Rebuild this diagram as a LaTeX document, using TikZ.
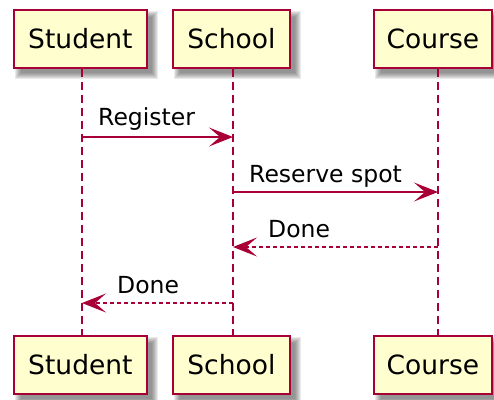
\documentclass[tikz,border=0pt]{standalone}
\usepackage{fontspec}
\setmainfont{DejaVu Sans}
\usetikzlibrary{arrows.meta,backgrounds}
\definecolor{seqred}{HTML}{A80036}
\definecolor{boxfill}{HTML}{FEFECE}
\tikzset{
  actorbox/.style={draw=seqred, fill=boxfill, line width=1.8pt, inner sep=0pt,
    minimum height=58pt, anchor=north west, font=\fontsize{26.5}{30}\selectfont, text=black},
  lifeline/.style={draw=seqred, line width=1.5pt, dash pattern=on 8pt off 5pt},
  call/.style={draw=seqred, line width=1.6pt,
    -{Stealth[length=24pt, width=19pt, inset=11pt, fill=seqred]}},
  reply/.style={call, dash pattern=on 4pt off 3pt},
  msglabel/.style={anchor=base west, inner sep=0pt, font=\fontsize{23.5}{27}\selectfont, text=black}
}
\begin{document}
\begin{tikzpicture}[x=1pt, y=-1pt]
  \useasboundingbox (0,0) rectangle (494,399);

  % participants, head and foot
  \node[actorbox, minimum width=133pt] (stuT) at (13,9) {Student};
  \node[actorbox, minimum width=117pt] (schT) at (172,9) {School};
  \node[actorbox, minimum width=118pt] (couT) at (373,9) {Course};
  \node[actorbox, minimum width=133pt] (stuB) at (13,335) {Student};
  \node[actorbox, minimum width=117pt] (schB) at (172,335) {School};
  \node[actorbox, minimum width=118pt] (couB) at (373,335) {Course};

  % soft drop shadows behind every box
  \begin{scope}[on background layer]
    \foreach \b in {stuT,schT,couT,stuB,schB,couB}{
      \foreach \e in {4,3,2,1,0,-1,-2}{
        \fill[black!75, opacity=0.11]
          ([shift={(6-\e pt,-6+\e pt)}]\b.north west) rectangle
          ([shift={(6+\e pt,-6-\e pt)}]\b.south east);
      }
    }
  \end{scope}

  % lifeline x positions
  \coordinate (xs) at (82,0);
  \coordinate (xc) at (233,0);
  \coordinate (xo) at (438,0);

  \begin{scope}[on background layer]
    \draw[lifeline] (stuT.south -| xs) -- (stuB.north -| xs);
    \draw[lifeline] (schT.south -| xc) -- (schB.north -| xc);
    \draw[lifeline] (couT.south -| xo) -- (couB.north -| xo);
  \end{scope}

  % message rows
  \coordinate (r1) at (0,137);
  \coordinate (r2) at (0,192);
  \coordinate (r3) at (0,247);
  \coordinate (r4) at (0,303);

  \draw[call]  (xs |- r1) -- (xc |- r1);
  \node[msglabel] (m1) at (98,125) {Register};

  \draw[call]  (xc |- r2) -- (xo |- r2);
  \node[msglabel] (m2) at (249,182) {Reserve spot};

  \draw[reply] (xo |- r3) -- (xc |- r3);
  \node[msglabel] (m3) at (268,237) {Done};

  \draw[reply] (xc |- r4) -- (xs |- r4);
  \node[msglabel] (m4) at (117,293) {Done};
\end{tikzpicture}
\end{document}
